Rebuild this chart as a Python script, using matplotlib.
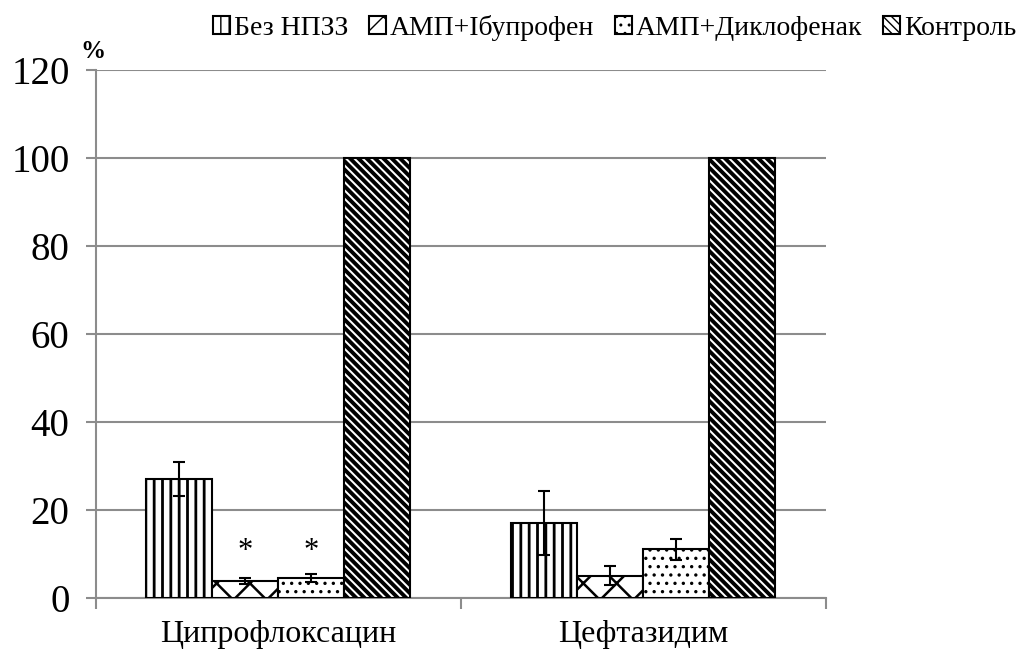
import numpy as np
import matplotlib.pyplot as plt

plt.rcParams['font.family'] = ['Liberation Serif', 'DejaVu Serif']

categories = ['Ципрофлоксацин', 'Цефтазидим']
series = ['Без НПЗЗ', 'АМП+Ібупрофен', 'АМП+Диклофенак', 'Контроль']
values = [
    [27.0, 17.0],
    [3.8, 5.0],
    [4.5, 11.0],
    [100.0, 100.0],
]
errors = [
    [3.8, 7.3],
    [0.7, 2.2],
    [1.0, 2.4],
    [0.0, 0.0],
]
hatches = ['||', 'x', '..', '\\\\\\\\']
hatch_lw = [2.0, 1.8, 1.2, 2.8]

fig = plt.figure(figsize=(10.32, 6.49), dpi=100)
ax = fig.add_axes([0.093, 0.079, 0.707, 0.813])

x = np.arange(len(categories))
width = 0.181
for i, name in enumerate(series):
    pos = x + (i - 1.5) * width
    with plt.rc_context({'hatch.linewidth': hatch_lw[i]}):
        ax.bar(pos, values[i], width, color='white', edgecolor='black',
               hatch=hatches[i], linewidth=1.5, label=name, zorder=3)
    if i < 3:
        ax.errorbar(pos, values[i], yerr=errors[i], fmt='none', ecolor='black',
                    elinewidth=1.5, capsize=4, capthick=1.5, zorder=4)

# significance marks
for i in (1, 2):
    ax.text(x[0] + (i - 1.5) * width, 10.5, '*', ha='center', va='center',
            fontsize=22)

ax.set_xlim(-0.5, 1.5)
ax.set_ylim(0, 120)
ax.set_yticks(range(0, 121, 20))
ax.yaxis.grid(True, color='#8c8c8c', linewidth=1.5, zorder=0)
ax.set_xticks([-0.5, 0.5, 1.5], minor=False)
ax.set_xticklabels([])
ax.set_xticks(x, minor=True)
ax.set_xticklabels(categories, minor=True, fontsize=23)
ax.tick_params(axis='x', which='minor', length=0, pad=16)
ax.tick_params(axis='x', which='major', length=8, width=1.5, color='#8c8c8c')
ax.tick_params(axis='y', labelsize=28, length=7, width=1.5, color='#8c8c8c', pad=12)

for s in ('top', 'right'):
    ax.spines[s].set_visible(False)
for s in ('left', 'bottom'):
    ax.spines[s].set_color('#8c8c8c')
    ax.spines[s].set_linewidth(1.5)

fig.text(0.078, 0.91, '%', fontsize=18, fontweight='bold')

ax.legend(loc='lower left', bbox_to_anchor=(0.145, 1.035), ncol=4, frameon=False,
          fontsize=20, handlelength=0.6, handleheight=0.6, handletextpad=0.15,
          columnspacing=0.75, borderaxespad=0)

fig.savefig('out.png', dpi=100)
